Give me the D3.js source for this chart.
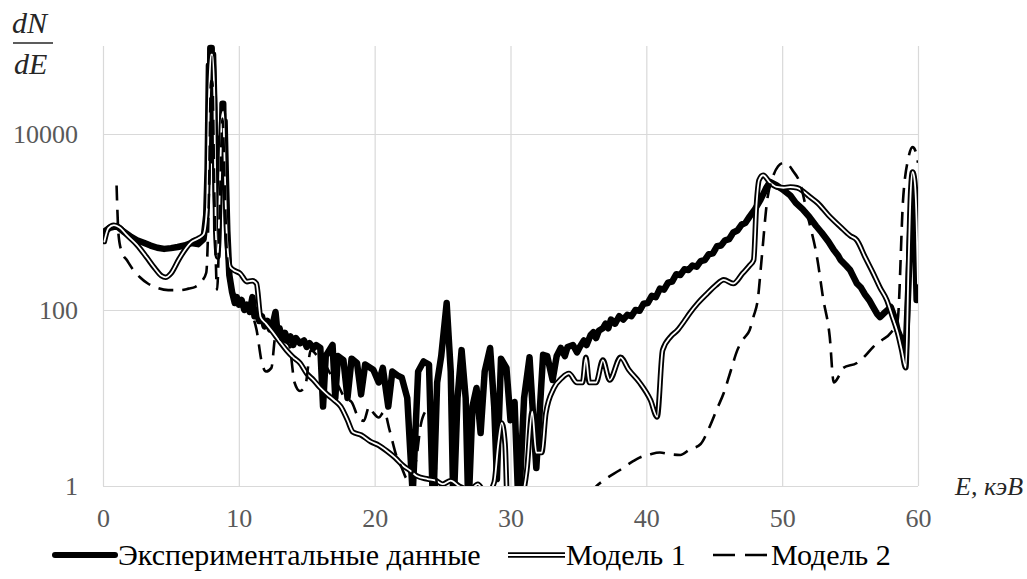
<!DOCTYPE html>
<html>
<head>
<meta charset="utf-8">
<script src="https://cdn.jsdelivr.net/npm/d3@7"></script>
<style>
  body { margin: 0; background: #fff; }
  svg { display: block; font-family: "Liberation Serif", "Times New Roman", serif; }
</style>
</head>
<body>
<div id="chart"></div>
<script>
// E (keV), dN/dE
const expData = [
  [0.1, 780], [0.5, 860], [1.0, 900], [1.5, 780], [2.0, 690], [2.5, 620], [3.0, 580], [3.5, 540],
  [4.0, 510], [4.5, 495], [5.0, 505], [5.5, 520], [6.0, 540], [6.5, 575], [7.0, 560], [7.4, 640],
  [7.6, 1200], [7.7, 4000], [7.8, 60000], [7.85, 5000], [7.9, 95000], [8.0, 95000], [8.05, 8000],
  [8.1, 80000], [8.2, 20000], [8.3, 2000], [8.45, 500], [8.55, 1500], [8.65, 9000], [8.7, 2500],
  [8.8, 22000], [8.85, 22000], [8.9, 4000], [8.95, 14000], [9.05, 3000], [9.15, 800], [9.3, 250],
  [9.5, 160], [9.7, 120], [9.85, 140], [10.0, 115], [10.2, 130], [10.4, 100], [10.6, 115], [10.8, 95],
  [11.0, 140], [11.15, 85], [11.3, 100], [11.5, 75], [11.7, 85], [11.9, 65], [12.1, 75], [12.3, 60],
  [12.5, 70], [12.7, 95], [12.85, 55], [13.0, 62], [13.2, 48], [13.4, 55], [13.6, 45], [13.8, 50],
  [14.0, 40], [14.2, 48], [14.5, 42], [14.8, 45], [15.0, 38], [15.2, 42], [15.5, 37], [15.7, 40],
  [16.0, 37], [16.2, 8], [16.4, 30], [16.9, 40], [17.1, 10], [17.3, 30], [17.7, 27], [18.0, 10],
  [18.3, 28], [18.7, 25], [19.0, 11], [19.3, 24], [19.9, 21], [20.3, 15], [20.6, 22], [21.0, 8],
  [21.3, 20], [21.7, 18], [22.0, 17], [22.4, 10], [22.8, 0.8], [23.2, 20], [23.6, 26], [24.0, 24],
  [24.3, 0.5], [24.6, 15], [24.9, 30], [25.3, 120], [25.6, 20], [25.8, 0.5], [26.1, 10], [26.4, 35],
  [26.7, 10], [26.9, 0.5], [27.2, 8], [27.5, 13], [27.8, 4], [28.1, 20], [28.5, 37], [28.8, 8],
  [29.0, 1.2], [29.3, 28], [29.7, 22], [30.0, 5.6], [30.3, 9], [30.6, 0.5], [31.0, 10], [31.4, 29],
  [31.9, 1.6], [32.4, 31], [32.7, 30], [33.1, 16], [33.4, 30], [33.7, 37], [34.0, 30], [34.2, 38],
  [34.6, 40], [34.9, 33], [35.1, 38], [35.4, 45], [35.6, 40], [35.9, 52], [36.1, 56], [36.3, 48],
  [36.5, 58], [36.8, 62], [37.0, 70], [37.2, 62], [37.4, 78], [37.7, 70], [38.0, 85], [38.3, 78],
  [38.6, 88], [38.9, 85], [39.2, 100], [39.5, 98], [39.8, 118], [40.1, 120], [40.4, 145], [40.7, 140],
  [41.0, 175], [41.3, 170], [41.6, 205], [41.9, 210], [42.2, 255], [42.5, 250], [42.8, 290],
  [43.1, 285], [43.4, 320], [43.7, 310], [44.0, 360], [44.3, 370], [44.6, 430], [44.9, 440],
  [45.2, 530], [45.5, 540], [45.8, 620], [46.1, 640], [46.4, 760], [46.7, 800], [47.0, 930],
  [47.3, 980], [47.6, 1150], [48.0, 1400], [48.4, 1780], [48.8, 2400], [49.1, 2850], [49.6, 2600],
  [50.1, 2300], [50.6, 2000], [51.0, 1650], [51.5, 1400], [52.0, 1140], [52.5, 900], [52.9, 760],
  [53.4, 600], [53.8, 480], [54.1, 420], [54.3, 370], [54.7, 320], [55.0, 285], [55.3, 230],
  [55.5, 200], [55.8, 180], [56.1, 150], [56.4, 130], [56.7, 108], [57.0, 90], [57.2, 83], [57.6, 95],
  [58.0, 108], [58.3, 80], [58.5, 59], [58.8, 45], [59.1, 35], [59.3, 200], [59.45, 1000],
  [59.6, 2500], [59.75, 1200], [59.9, 130]
];

const model1Data = [
  [0.1, 600], [0.4, 850], [0.8, 920], [1.2, 870], [1.8, 700], [2.5, 550], [3.2, 400], [3.8, 300],
  [4.3, 245], [4.6, 235], [5.0, 260], [5.6, 380], [6.1, 500], [6.5, 590], [7.0, 650], [7.4, 720],
  [7.65, 1400], [7.8, 25000], [7.95, 80000], [8.05, 80000], [8.2, 25000], [8.3, 800], [8.45, 400],
  [8.6, 2500], [8.75, 15000], [8.85, 18000], [8.95, 5000], [9.1, 800], [9.35, 310], [9.6, 285],
  [10.1, 260], [10.6, 210], [11.0, 215], [11.3, 200], [11.6, 83], [12.0, 70], [12.5, 56], [13.0, 44],
  [13.5, 35], [14.0, 29], [14.5, 25], [15.0, 19], [15.5, 16], [16.0, 13], [16.5, 11], [17.0, 9.5],
  [17.5, 8], [18.0, 5.6], [18.4, 4.1], [19.0, 3.8], [19.7, 3.2], [20.3, 2.9], [20.9, 2.5],
  [21.5, 2.1], [22.1, 1.7], [22.6, 1.5], [23.1, 1.3], [23.9, 1.2], [24.5, 1.15], [25.0, 1.05],
  [25.6, 1.15], [26.2, 1.0], [27.0, 0.9], [27.6, 1.05], [28.2, 0.8], [28.8, 1.1], [29.1, 3],
  [29.35, 5.2], [29.6, 3], [29.8, 0.5], [30.6, 0.6], [31.2, 1.5], [31.6, 7], [31.9, 2.4], [32.3, 2.4],
  [32.6, 6.7], [33.2, 13], [33.8, 17], [34.3, 19], [34.9, 15], [35.3, 15], [35.55, 29], [35.8, 15],
  [36.3, 15], [36.8, 27], [37.3, 16], [38.1, 29], [38.7, 21], [39.5, 15], [40.3, 9.5], [40.8, 6.1],
  [41.2, 35], [41.8, 50], [42.3, 59], [42.8, 75], [43.2, 92], [43.8, 120], [44.5, 155], [45.1, 190],
  [45.7, 220], [46.4, 200], [47.1, 262], [47.6, 320], [47.9, 370], [48.1, 1500], [48.3, 3000],
  [48.6, 3400], [49.1, 2800], [49.6, 2500], [50.1, 2450], [50.6, 2500], [51.1, 2450], [51.6, 2200],
  [52.0, 1950], [52.6, 1650], [53.4, 1200], [54.3, 880], [55.0, 700], [55.5, 620], [56.1, 400],
  [56.7, 262], [57.2, 180], [57.7, 130], [58.1, 85], [58.5, 55], [58.8, 35], [59.1, 22], [59.3, 300],
  [59.45, 2000], [59.6, 3700], [59.75, 3000], [59.9, 1000], [60.0, 200]
];

const model2Data = [
  [1.0, 2600], [1.15, 700], [1.4, 450], [1.75, 370], [2.2, 290], [2.7, 237], [3.3, 200], [4.0, 178],
  [4.8, 168], [5.7, 168], [6.3, 175], [6.8, 183], [7.3, 215], [7.6, 265], [7.8, 2000], [7.95, 40000],
  [8.05, 40000], [8.2, 2000], [8.4, 170], [8.6, 1500], [8.8, 15000], [8.95, 3000], [9.1, 500],
  [9.4, 200], [9.8, 140], [10.3, 120], [10.8, 100], [11.3, 60], [11.7, 25], [12.0, 20], [12.4, 22],
  [12.7, 50], [13.2, 45], [13.7, 40], [14.1, 15], [14.5, 12], [14.9, 14], [15.3, 35], [15.8, 30],
  [16.3, 25], [16.8, 18], [17.3, 14], [17.8, 10], [18.3, 9], [18.8, 6], [19.2, 5.5], [19.6, 8],
  [19.9, 6.8], [20.3, 6], [20.7, 7], [21.1, 4.3], [21.6, 2.2], [22.0, 1.6], [22.4, 1.2], [23.0, 1.8],
  [23.4, 5], [23.8, 7.3], [24.1, 8], [24.4, 3], [24.7, 0.6], [26.0, 0.5], [30.0, 0.5], [35.0, 0.5],
  [36.2, 0.95], [37.0, 1.2], [38.0, 1.5], [39.0, 1.9], [39.5, 2.1], [40.3, 2.3], [41.0, 2.4],
  [41.7, 2.3], [42.5, 2.25], [43.2, 2.6], [44.0, 3.0], [44.6, 4.5], [45.2, 7.5], [45.7, 11.4],
  [46.2, 20], [46.7, 35], [47.2, 48], [47.6, 59], [47.9, 85], [48.2, 130], [48.5, 400], [48.9, 1780],
  [49.3, 3200], [49.7, 4300], [50.1, 4700], [50.5, 4400], [50.8, 3800], [51.3, 2800], [51.9, 1140],
  [52.6, 370], [53.0, 140], [53.5, 50], [53.8, 15], [54.2, 18], [54.5, 22], [55.5, 25], [56.1, 30],
  [56.7, 38], [57.3, 45], [58.0, 55], [58.5, 77], [58.9, 1780], [59.3, 5400], [59.6, 7100],
  [59.8, 6500], [60.0, 4700]
];

const xTicks = [0, 10, 20, 30, 40, 50, 60];
const yTicks = [1, 100, 10000];
const seriesNames = ["Экспериментальные данные", "Модель 1", "Модель 2"];

const width = 1027, height = 579;
const margin = {top: 46, right: 109, bottom: 93, left: 103};
const grey = "#595959";

const x = d3.scaleLinear().domain([0, 60]).range([margin.left, width - margin.right]);
const y = d3.scaleLog().domain([1, 1e5]).range([height - margin.bottom, margin.top]);

const svg = d3.select("#chart").append("svg")
    .attr("width", width)
    .attr("height", height);

svg.append("rect").attr("width", width).attr("height", height).attr("fill", "#fff");

// gridlines
svg.append("g")
    .attr("transform", `translate(0,${height - margin.bottom})`)
    .call(d3.axisBottom(x).tickValues(xTicks).tickSize(-(height - margin.bottom - margin.top)).tickFormat(""))
    .call(g => g.select(".domain").remove())
    .call(g => g.selectAll("line").attr("stroke", "#d9d9d9").attr("stroke-width", 1.2));

svg.append("g")
    .attr("transform", `translate(${margin.left},0)`)
    .call(d3.axisLeft(y).tickValues(yTicks).tickSize(-(width - margin.left - margin.right)).tickFormat(""))
    .call(g => g.select(".domain").remove())
    .call(g => g.selectAll("line").attr("stroke", "#d9d9d9").attr("stroke-width", 1.2));

// tick labels
svg.append("g")
    .attr("transform", `translate(0,${height - margin.bottom})`)
    .call(d3.axisBottom(x).tickValues(xTicks).tickSize(0).tickPadding(23))
    .call(g => g.select(".domain").remove())
    .call(g => g.selectAll("text").attr("fill", grey).style("font-size", "26px").style("font-family", "Liberation Serif"));

svg.append("g")
    .attr("transform", `translate(${margin.left},0)`)
    .call(d3.axisLeft(y).tickValues(yTicks).tickSize(0).tickPadding(25).tickFormat(d3.format("d")))
    .call(g => g.select(".domain").remove())
    .call(g => g.selectAll("text").attr("fill", grey).style("font-size", "26px").style("font-family", "Liberation Serif"));

// axis titles
const titles = svg.append("g").attr("fill", "#262626").style("font-style", "italic").style("font-size", "30px");
titles.append("text").attr("x", 12).attr("y", 33).text("dN");
titles.append("line").attr("x1", 13).attr("x2", 53).attr("y1", 43).attr("y2", 43)
    .attr("stroke", "#262626").attr("stroke-width", 1.3);
titles.append("text").attr("x", 14).attr("y", 74).text("dE");
titles.append("text").attr("x", 955).attr("y", 495).style("font-size", "26px").text("E, кэВ");

// series
svg.append("clipPath").attr("id", "plot")
  .append("rect")
    .attr("x", margin.left).attr("y", margin.top - 2)
    .attr("width", width - margin.left - margin.right)
    .attr("height", height - margin.top - margin.bottom + 2);

const line = d3.line().x(d => x(d[0])).y(d => y(d[1]));
const smooth = d3.line().x(d => x(d[0])).y(d => y(d[1])).curve(d3.curveMonotoneX);

const plot = svg.append("g").attr("clip-path", "url(#plot)").attr("fill", "none")
    .attr("stroke-linejoin", "round").attr("stroke-linecap", "round");

plot.append("path").datum(expData)
    .attr("d", line).attr("stroke", "#000").attr("stroke-width", 6.5);

plot.append("path").datum(model1Data)
    .attr("d", smooth).attr("stroke", "#000").attr("stroke-width", 5.5);
plot.append("path").datum(model1Data)
    .attr("d", smooth).attr("stroke", "#fff").attr("stroke-width", 1.8);

plot.append("path").datum(model2Data)
    .attr("d", smooth).attr("stroke", "#000").attr("stroke-width", 2.6)
    .attr("stroke-dasharray", "15,9").attr("stroke-linecap", "butt");

// legend
const ly = 555;
const legend = svg.append("g").style("font-size", "30px").attr("fill", "#000");

legend.append("line").attr("x1", 55).attr("x2", 115).attr("y1", ly).attr("y2", ly)
    .attr("stroke", "#000").attr("stroke-width", 6).attr("stroke-linecap", "round");
legend.append("text").attr("x", 118).attr("y", ly + 10).text(seriesNames[0]);

legend.append("line").attr("x1", 508).attr("x2", 565).attr("y1", ly).attr("y2", ly)
    .attr("stroke", "#000").attr("stroke-width", 5.5);
legend.append("line").attr("x1", 508).attr("x2", 565).attr("y1", ly).attr("y2", ly)
    .attr("stroke", "#fff").attr("stroke-width", 1.8);
legend.append("text").attr("x", 566).attr("y", ly + 10).text(seriesNames[1]);

legend.append("line").attr("x1", 713).attr("x2", 768).attr("y1", ly).attr("y2", ly)
    .attr("stroke", "#000").attr("stroke-width", 2.6).attr("stroke-dasharray", "22,10");
legend.append("text").attr("x", 771).attr("y", ly + 10).text(seriesNames[2]);
</script>
</body>
</html>
